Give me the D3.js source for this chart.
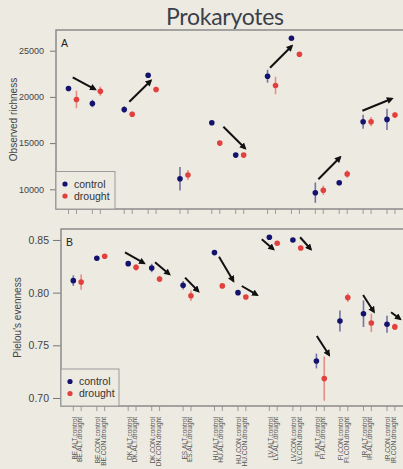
<!DOCTYPE html>
<html>
<head>
<meta charset="utf-8">
<script src="https://cdn.jsdelivr.net/npm/d3@7"></script>
<style>
  body { margin: 0; background: #edeae2; }
  svg { display: block; }
</style>
</head>
<body>
<div id="chart"></div>
<script>
// sites in plot order, and their slot on the original factor axis
var sites = ['BE.ALT', 'BE.CON', 'DK.ALT', 'DK.CON', 'ES.ALT', 'HU.ALT', 'HU.CON',
             'LV.ALT', 'LV.CON', 'FI.ALT', 'FI.CON', 'IR.ALT', 'IR.CON'];
var siteSlot = [0, 3, 7, 10, 14, 18, 21, 25, 28, 31, 34, 37, 40];
var treatments = ['control', 'drought'];

// panel A: observed richness (mean, half error bar)
var richControl = [20909, 19286, 18636, 22348, 11147, 17208, 13700, 22240, 26342, 9632, 10714, 17316, 17565];
var richDrought = [19720, 20617, 18128, 20800, 11548, 15000, 13700, 21234, 24610, 9892, 11656, 17316, 18030];
var richControlErr = [150, 400, 350, 200, 1270, 150, 150, 700, 150, 1100, 200, 760, 1140];
var richDroughtErr = [950, 500, 300, 300, 550, 200, 200, 940, 200, 500, 400, 500, 300];
var richTicks = [10000, 15000, 20000, 25000];
// arrows: [slot0, value0, slot1, value1]
var richArrows = [
  [0.53, 22121, 3.33, 20823],
  [7.64, 19481, 10.33, 21753],
  [19.45, 16775, 22.17, 14437],
  [25.31, 23160, 28.04, 25509],
  [31.38, 11082, 34.11, 13463],
  [36.91, 18506, 40.60, 19805]
];

// panel B: Pielou's evenness
var evenControl = [0.8114, 0.8326, 0.8275, 0.8234, 0.807, 0.838, 0.800, 0.8526, 0.850, 0.7351, 0.7731, 0.780, 0.770];
var evenDrought = [0.810, 0.8345, 0.824, 0.813, 0.797, 0.8064, 0.7959, 0.8469, 0.8424, 0.7184, 0.7953, 0.7712, 0.7675];
var evenControlErr = [0.005, 0.002, 0.002, 0.004, 0.004, 0.0015, 0.0015, 0.0015, 0.0015, 0.007, 0.010, 0.0126, 0.008];
var evenDroughtErr = [0.0073, 0.002, 0.003, 0.003, 0.005, 0.0015, 0.0015, 0.002, 0.002, 0.021, 0.004, 0.0087, 0.003];
var evenTicks = [0.70, 0.75, 0.80, 0.85];
var evenArrows = [
  [6.59, 0.8383, 9.02, 0.8279],
  [10.42, 0.8288, 12.24, 0.8174],
  [14.25, 0.8142, 15.94, 0.8013],
  [18.58, 0.8341, 20.41, 0.8111],
  [21.48, 0.8063, 23.43, 0.7978],
  [24.03, 0.8507, 25.51, 0.8412],
  [28.92, 0.8526, 30.28, 0.8412],
  [31.05, 0.7589, 32.61, 0.7408],
  [36.95, 0.7978, 38.32, 0.7819],
  [40.52, 0.7814, 41.67, 0.7750]
];

var W = 403, H = 469;
var colControl = '#13136e', colDrought = '#e2403d';
var bg = '#edeae2';

var svg = d3.select('#chart').append('svg')
    .attr('width', W)
    .attr('height', H)
    .style('font-family', '"Liberation Sans", Arial, sans-serif');

svg.append('rect').attr('width', W).attr('height', H).attr('fill', bg);

svg.append('defs').append('marker')
    .attr('id', 'head')
    .attr('viewBox', '0 0 10 10')
    .attr('refX', 7)
    .attr('refY', 5)
    .attr('markerWidth', 3.6)
    .attr('markerHeight', 3.4)
    .attr('orient', 'auto')
  .append('path')
    .attr('d', 'M0,0L10,5L0,10z')
    .attr('fill', '#111');

svg.append('text')
    .attr('x', 225)
    .attr('y', 25)
    .attr('text-anchor', 'middle')
    .attr('font-family', 'Lato, "Open Sans", sans-serif')
    .attr('font-size', 23)
    .attr('fill', '#3a3f4a')
    .attr('textLength', 118)
    .text('Prokaryotes');

function drawPanel(p) {
  var g = svg.append('g');
  var x = d3.scaleLinear().domain([0, 40]).range(p.xRange);
  var y = d3.scaleLinear().domain(p.yDomain).range([p.bottom, p.top]);

  // y axis ticks + labels
  var yAxis = d3.axisLeft(y).tickValues(p.ticks).tickSize(p.tickLen)
      .tickPadding(p.tickPad).tickFormat(p.fmt);
  var ya = g.append('g').attr('transform', 'translate(' + p.left + ',0)').call(yAxis);
  ya.select('.domain').remove();
  ya.selectAll('line').attr('stroke', '#777');
  ya.selectAll('text').attr('font-size', p.tickFont).attr('fill', '#444')
      .attr('font-family', '"Liberation Sans", Arial, sans-serif');

  // x ticks at every control/drought slot
  var slots = [];
  siteSlot.forEach(function (s, k) {
    slots.push({ pos: s, label: sites[k] + '.' + treatments[0], side: 1 });
    slots.push({ pos: s + 1, label: sites[k] + '.' + treatments[1], side: -1 });
  });
  g.selectAll('.xt').data(slots).enter().append('line').classed('xt', true)
      .attr('x1', function (d) { return x(d.pos); })
      .attr('x2', function (d) { return x(d.pos); })
      .attr('y1', p.bottom)
      .attr('y2', p.bottom + 5)
      .attr('stroke', '#888')
      .attr('stroke-width', 0.8);

  if (p.labels) {
    g.selectAll('.xl').data(slots).enter().append('text').classed('xl', true)
        .attr('transform', function (d) {
          return 'translate(' + (x(d.pos) + d.side * 1.2) + ',' + (p.bottom + 11) + ') rotate(-90)';
        })
        .attr('text-anchor', 'end')
        .attr('dy', '0.35em')
        .attr('font-size', 6.5)
        .attr('fill', '#555')
        .text(function (d) { return d.label; });
  }

  // panel box
  g.append('rect')
      .attr('x', p.left)
      .attr('y', p.top)
      .attr('width', p.right - p.left)
      .attr('height', p.bottom - p.top)
      .attr('fill', 'none')
      .attr('stroke', '#8a8a8a')
      .attr('stroke-width', 1.5);

  g.append('text')
      .attr('x', p.left + 5)
      .attr('y', p.top + 17)
      .attr('font-size', 10.5)
      .attr('fill', '#222')
      .text(p.letter);

  g.append('text')
      .attr('transform', 'translate(' + p.titleX + ',' + ((p.top + p.bottom) / 2) + ') rotate(-90)')
      .attr('text-anchor', 'middle')
      .attr('font-size', 10)
      .attr('fill', '#444')
      .text(p.title);

  // error bars + points
  var series = [
    { vals: p.control, errs: p.controlErr, off: 0, col: colControl },
    { vals: p.drought, errs: p.droughtErr, off: 1, col: colDrought }
  ];
  series.forEach(function (s) {
    var rows = s.vals.map(function (v, k) { return { pos: siteSlot[k] + s.off, v: v, e: s.errs[k] }; });
    g.selectAll(null).data(rows).enter().append('line')
        .attr('x1', function (d) { return x(d.pos); })
        .attr('x2', function (d) { return x(d.pos); })
        .attr('y1', function (d) { return y(d.v - d.e); })
        .attr('y2', function (d) { return y(d.v + d.e); })
        .attr('stroke', s.col)
        .attr('stroke-opacity', 0.55)
        .attr('stroke-width', 1.6);
    g.selectAll(null).data(rows).enter().append('circle')
        .attr('cx', function (d) { return x(d.pos); })
        .attr('cy', function (d) { return y(d.v); })
        .attr('r', 2.8)
        .attr('fill', s.col);
  });

  // arrows
  g.selectAll('.arr').data(p.arrows).enter().append('line').classed('arr', true)
      .attr('x1', function (d) { return x(d[0]); })
      .attr('y1', function (d) { return y(d[1]); })
      .attr('x2', function (d) { return x(d[2]); })
      .attr('y2', function (d) { return y(d[3]); })
      .attr('stroke', '#111')
      .attr('stroke-width', 2)
      .attr('marker-end', 'url(#head)');

  // legend
  var lg = g.append('g');
  lg.append('rect')
      .attr('x', p.left)
      .attr('y', p.legTop)
      .attr('width', p.legW)
      .attr('height', p.bottom - p.legTop)
      .attr('fill', bg)
      .attr('stroke', '#9a9a9a')
      .attr('stroke-width', 1);
  [colControl, colDrought].forEach(function (c, k) {
    var cy = p.legTop + 12.5 + k * 12;
    lg.append('circle').attr('cx', p.left + 9).attr('cy', cy).attr('r', 2.6).attr('fill', c);
    lg.append('text')
        .attr('x', p.left + 18)
        .attr('y', cy)
        .attr('dy', '0.35em')
        .attr('font-size', 10.5)
        .attr('fill', '#333')
        .text(treatments[k]);
  });
}

drawPanel({
  letter: 'A', title: 'Observed richness', titleX: 17,
  left: 56, right: 410, top: 30, bottom: 209,
  xRange: [68.5, 387], yDomain: [7868, 27240],
  ticks: richTicks, fmt: d3.format('d'), tickLen: 6, tickPad: 6, tickFont: 9,
  control: richControl, drought: richDrought,
  controlErr: richControlErr, droughtErr: richDroughtErr,
  arrows: richArrows, labels: false, legTop: 171.5, legW: 59
});

drawPanel({
  letter: 'B', title: "Pielou's evenness", titleX: 21,
  left: 61, right: 410, top: 229, bottom: 406,
  xRange: [73.3, 387], yDomain: [0.6924, 0.8604],
  ticks: evenTicks, fmt: d3.format('.2f'), tickLen: 8, tickPad: 4, tickFont: 10.5,
  control: evenControl, drought: evenDrought,
  controlErr: evenControlErr, droughtErr: evenDroughtErr,
  arrows: evenArrows, labels: true, legTop: 369, legW: 58
});
</script>
</body>
</html>
